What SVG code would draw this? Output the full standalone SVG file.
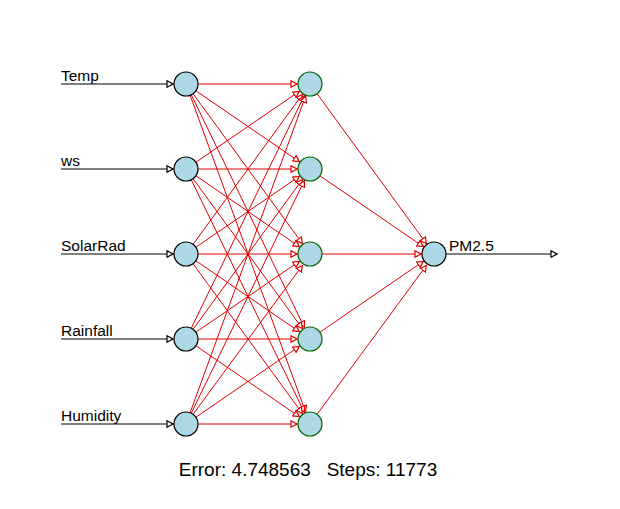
<svg xmlns="http://www.w3.org/2000/svg" width="620" height="509" viewBox="0 0 620 509">
<style>
.lbl{font-family:"Liberation Sans",Arial,sans-serif;font-size:15.5px;fill:#000}
.info{font-family:"Liberation Sans",Arial,sans-serif;font-size:19px;fill:#000;white-space:pre}
.blk{stroke:#000;stroke-width:1;fill:none}
.red{stroke:#e00000;stroke-width:1;fill:none}
.nin{fill:#add8e6;stroke:#000;stroke-width:1.2}
.nhid{fill:#add8e6;stroke:#006400;stroke-width:1.2}
</style>
<defs>
<marker id="ab" markerUnits="userSpaceOnUse" markerWidth="8" markerHeight="8" viewBox="0 0 6 6" refX="5" refY="3" orient="auto"><path d="M0.5,0.6 L5,3 L0.5,5.4 Z" fill="#fff" stroke="#000" stroke-width="0.9"/></marker>
<marker id="ar" markerUnits="userSpaceOnUse" markerWidth="8" markerHeight="8" viewBox="0 0 6 6" refX="5" refY="3" orient="auto"><path d="M0.5,0.6 L5,3 L0.5,5.4 Z" fill="#fff" stroke="#e00000" stroke-width="0.9"/></marker>
</defs>
<rect width="620" height="509" fill="#fff"/>
<g id="connectors">
<g class="blk" marker-end="url(#ab)">
<line x1="61" y1="84" x2="173" y2="84"/>
<line x1="61" y1="169" x2="173" y2="169"/>
<line x1="61" y1="254" x2="173" y2="254"/>
<line x1="61" y1="339" x2="173" y2="339"/>
<line x1="61" y1="424" x2="173" y2="424"/>
<line x1="446" y1="254" x2="557" y2="254"/>
</g>
<g class="red" marker-end="url(#ar)">
<line x1="198" y1="84" x2="297" y2="84"/>
<line x1="195.9" y1="90.78" x2="299.28" y2="161.65"/>
<line x1="193.07" y1="93.69" x2="302.34" y2="243.5"/>
<line x1="191.25" y1="94.79" x2="304.31" y2="327.31"/>
<line x1="190.11" y1="95.27" x2="305.55" y2="411.79"/>
<line x1="195.9" y1="162.22" x2="299.28" y2="91.35"/>
<line x1="198" y1="169" x2="297" y2="169"/>
<line x1="195.9" y1="175.78" x2="299.28" y2="246.65"/>
<line x1="193.07" y1="178.69" x2="302.34" y2="328.5"/>
<line x1="191.25" y1="179.79" x2="304.31" y2="412.31"/>
<line x1="193.07" y1="244.31" x2="302.34" y2="94.5"/>
<line x1="195.9" y1="247.22" x2="299.28" y2="176.35"/>
<line x1="198" y1="254" x2="297" y2="254"/>
<line x1="195.9" y1="260.78" x2="299.28" y2="331.65"/>
<line x1="193.07" y1="263.69" x2="302.34" y2="413.5"/>
<line x1="191.25" y1="328.21" x2="304.31" y2="95.69"/>
<line x1="193.07" y1="329.31" x2="302.34" y2="179.5"/>
<line x1="195.9" y1="332.22" x2="299.28" y2="261.35"/>
<line x1="198" y1="339" x2="297" y2="339"/>
<line x1="195.9" y1="345.78" x2="299.28" y2="416.65"/>
<line x1="190.11" y1="412.73" x2="305.55" y2="96.21"/>
<line x1="191.25" y1="413.21" x2="304.31" y2="180.69"/>
<line x1="193.07" y1="414.31" x2="302.34" y2="265.5"/>
<line x1="195.9" y1="417.22" x2="299.28" y2="346.35"/>
<line x1="198" y1="424" x2="297" y2="424"/>
<line x1="317.07" y1="93.69" x2="426.34" y2="243.5"/>
<line x1="319.9" y1="175.78" x2="423.28" y2="246.65"/>
<line x1="322" y1="254" x2="421" y2="254"/>
<line x1="319.9" y1="332.22" x2="423.28" y2="261.35"/>
<line x1="317.07" y1="414.31" x2="426.34" y2="265.5"/>
</g>
</g>
<g id="in-temp"><circle class="nin" cx="186" cy="84" r="12"/><text class="lbl" x="61" y="81">Temp</text></g>
<g id="in-ws"><circle class="nin" cx="186" cy="169" r="12"/><text class="lbl" x="61" y="166">ws</text></g>
<g id="in-solarrad"><circle class="nin" cx="186" cy="254" r="12"/><text class="lbl" x="61" y="251">SolarRad</text></g>
<g id="in-rainfall"><circle class="nin" cx="186" cy="339" r="12"/><text class="lbl" x="61" y="336">Rainfall</text></g>
<g id="in-humidity"><circle class="nin" cx="186" cy="424" r="12"/><text class="lbl" x="61" y="421">Humidity</text></g>
<g id="hid-1"><circle class="nhid" cx="310" cy="84" r="12"/></g>
<g id="hid-2"><circle class="nhid" cx="310" cy="169" r="12"/></g>
<g id="hid-3"><circle class="nhid" cx="310" cy="254" r="12"/></g>
<g id="hid-4"><circle class="nhid" cx="310" cy="339" r="12"/></g>
<g id="hid-5"><circle class="nhid" cx="310" cy="424" r="12"/></g>
<g id="out-pm25"><circle class="nin" cx="434" cy="254" r="12"/><text class="lbl" x="449" y="251">PM2.5</text></g>
<g id="info"><text class="info" x="308" y="476" text-anchor="middle" xml:space="preserve">Error: 4.748563   Steps: 11773</text></g>
</svg>
